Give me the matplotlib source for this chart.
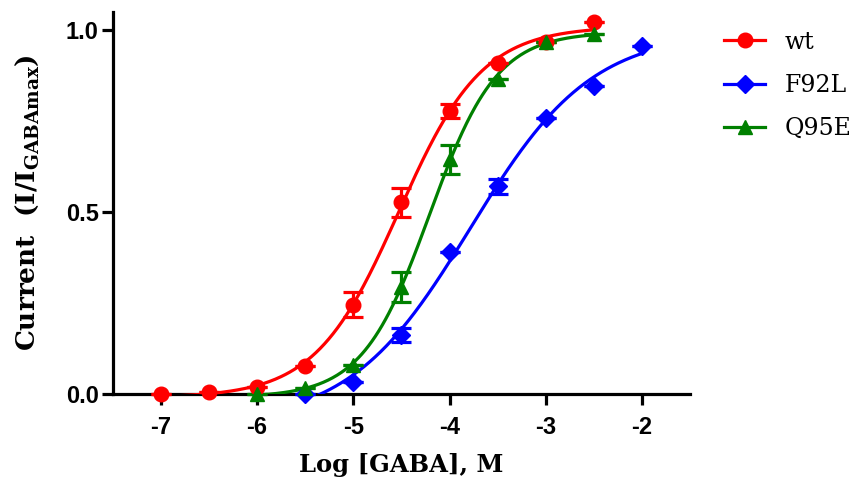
import numpy as np
import matplotlib
matplotlib.use("Agg")
import matplotlib.pyplot as plt

plt.rcParams["mathtext.fontset"] = "dejavuserif"

# Concentration-response data (log molar GABA vs normalised current)
wt_x = [-7.0, -6.5, -6.0, -5.5, -5.0, -4.5, -4.0, -3.5, -3.0, -2.5]
wt_y = [0.0, 0.005, 0.02, 0.077, 0.245, 0.527, 0.777, 0.91, 0.967, 1.022]
wt_err = [0.0, 0.0, 0.0, 0.0, 0.035, 0.04, 0.02, 0.0, 0.0, 0.0]

f92l_x = [-5.5, -5.0, -4.5, -4.0, -3.5, -3.0, -2.5, -2.0]
f92l_y = [0.0, 0.033, 0.162, 0.39, 0.57, 0.757, 0.845, 0.955]
f92l_err = [0.0, 0.0, 0.02, 0.0, 0.02, 0.0, 0.0, 0.0]

q95e_x = [-6.0, -5.5, -5.0, -4.5, -4.0, -3.5, -3.0, -2.5]
q95e_y = [0.0, 0.016, 0.08, 0.294, 0.645, 0.865, 0.967, 0.99]
q95e_err = [0.0, 0.0, 0.0, 0.042, 0.04, 0.0, 0.0, 0.0]

labels = ["wt", "F92L", "Q95E"]
colors = ["#ff0000", "#0000ff", "#008000"]
markers = ["o", "D", "^"]
xticks = [-7, -6, -5, -4, -3, -2]
yticks = [0.0, 0.5, 1.0]


def hill(p, x):
    bottom, top, logec50, n = p
    return bottom + (top - bottom) / (1.0 + 10.0 ** ((logec50 - x) * n))


def fit_hill(x, y, p0):
    """Levenberg-Marquardt least squares for a four-parameter logistic."""
    x = np.asarray(x, float)
    y = np.asarray(y, float)
    p = np.asarray(p0, float)
    lam = 1e-3
    for _ in range(500):
        r = y - hill(p, x)
        J = np.empty((x.size, p.size))
        for k in range(p.size):
            dp = np.zeros_like(p)
            dp[k] = 1e-6
            J[:, k] = (hill(p + dp, x) - hill(p - dp, x)) / 2e-6
        A = J.T @ J
        g = J.T @ r
        step = np.linalg.solve(A + lam * np.diag(np.diag(A)), g)
        new = p + step
        if np.sum((y - hill(new, x)) ** 2) < np.sum(r ** 2):
            p = new
            lam *= 0.3
        else:
            lam *= 10
        if np.max(np.abs(step)) < 1e-10:
            break
    return p


fig = plt.figure(figsize=(8.67, 4.93), dpi=100)
ax = fig.add_axes([0.130, 0.201, 0.666, 0.775])

series = [
    (wt_x, wt_y, wt_err, [0.0, 1.0, -4.5, 1.0]),
    (f92l_x, f92l_y, f92l_err, [0.0, 1.0, -3.7, 0.8]),
    (q95e_x, q95e_y, q95e_err, [0.0, 1.0, -4.2, 1.3]),
]

handles = []
for (x, y, e, p0), lab, c, m in zip(series, labels, colors, markers):
    p = fit_hill(x, y, p0)
    xs = np.linspace(min(x), max(x), 300)
    ax.plot(xs, hill(p, xs), color=c, lw=2.3, zorder=3)
    ms = 10.5 if m != "D" else 9
    ax.errorbar(x, y, yerr=e, fmt="none", ecolor=c, elinewidth=2.3,
                capsize=7, capthick=2.3, zorder=4, clip_on=False)
    ax.plot(x, y, ls="none", marker=m, color=c, ms=ms, zorder=5, clip_on=False)
    h, = ax.plot([], [], color=c, lw=2.3, marker=m, ms=ms)
    handles.append(h)

ax.set_xlim(-7.5, -1.5)
ax.set_ylim(0, 1.05)
ax.set_xticks(xticks)
ax.set_xticklabels([str(t) for t in xticks])
ax.set_yticks(yticks)
ax.set_yticklabels([f"{t:.1f}" for t in yticks])

for s in ["top", "right"]:
    ax.spines[s].set_visible(False)
for s in ["left", "bottom"]:
    ax.spines[s].set_linewidth(2.3)
ax.tick_params(width=2.3, length=8, direction="out")
ax.tick_params(axis="x", pad=8)
ax.tick_params(axis="y", pad=2)
for lab in ax.get_xticklabels() + ax.get_yticklabels():
    lab.set_fontfamily("Liberation Sans")
    lab.set_fontweight("bold")
    lab.set_fontsize(17)

ax.set_xlabel("Log [GABA], M", fontfamily="DejaVu Serif", fontweight="bold",
              fontsize=17.5, labelpad=10)
ax.set_ylabel(r"Current  (I/I$_{\mathbf{GABAmax}}$)", fontfamily="DejaVu Serif",
              fontweight="bold", fontsize=19, labelpad=18)

fig.legend(handles, labels, loc="upper left", bbox_to_anchor=(0.822, 0.962),
           frameon=False, prop={"family": "DejaVu Serif", "size": 17},
           borderpad=0, handlelength=1.7, labelspacing=0.86, handletextpad=0.85)

fig.savefig("out.png", dpi=100)
